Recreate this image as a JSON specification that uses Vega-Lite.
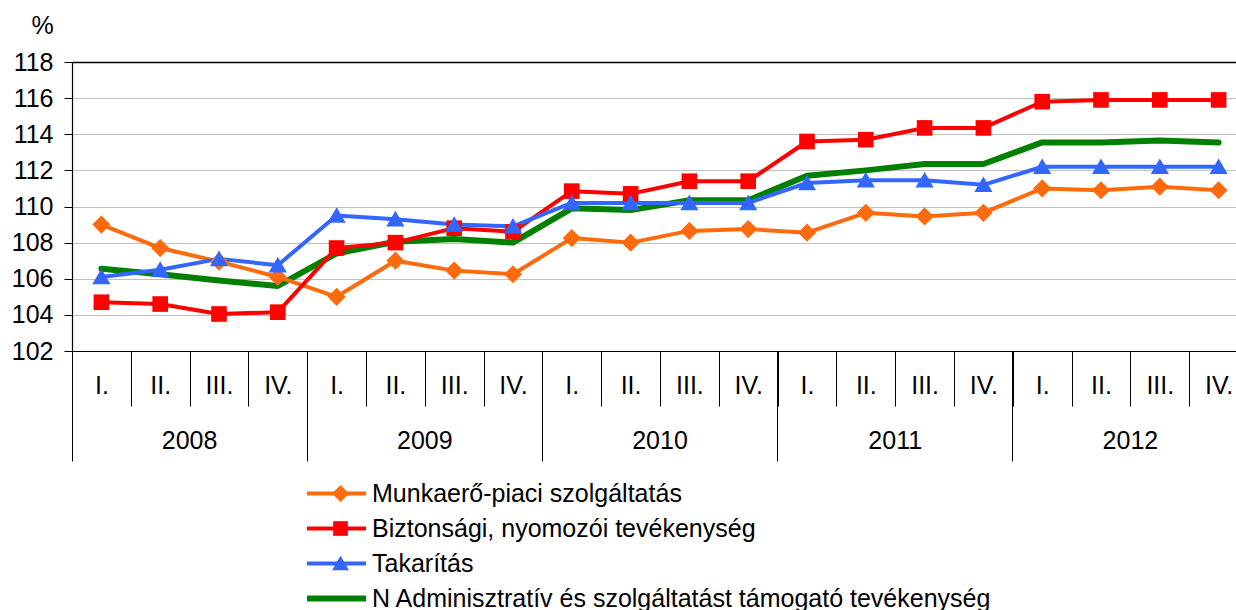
{
  "$schema": "https://vega.github.io/schema/vega-lite/v6.json",
  "autosize": {"type": "none"},
  "padding": {"left": 72, "top": 62, "right": -12, "bottom": 259},
  "width": 1176,
  "height": 289,
  "background": "white",
  "config": {
    "font": "Liberation Sans",
    "view": {"stroke": null},
    "axis": {"labelFont": "Liberation Sans", "titleFont": "Liberation Sans"},
    "legend": {"labelFont": "Liberation Sans"}
  },
  "data": {"values": [
    {"period": "2008|I.", "series": "Munkaerő-piaci szolgáltatás", "value": 109.0},
    {"period": "2008|II.", "series": "Munkaerő-piaci szolgáltatás", "value": 107.7},
    {"period": "2008|III.", "series": "Munkaerő-piaci szolgáltatás", "value": 106.95},
    {"period": "2008|IV.", "series": "Munkaerő-piaci szolgáltatás", "value": 106.1},
    {"period": "2009|I.", "series": "Munkaerő-piaci szolgáltatás", "value": 105.0},
    {"period": "2009|II.", "series": "Munkaerő-piaci szolgáltatás", "value": 107.0},
    {"period": "2009|III.", "series": "Munkaerő-piaci szolgáltatás", "value": 106.45},
    {"period": "2009|IV.", "series": "Munkaerő-piaci szolgáltatás", "value": 106.25},
    {"period": "2010|I.", "series": "Munkaerő-piaci szolgáltatás", "value": 108.25},
    {"period": "2010|II.", "series": "Munkaerő-piaci szolgáltatás", "value": 108.0},
    {"period": "2010|III.", "series": "Munkaerő-piaci szolgáltatás", "value": 108.65},
    {"period": "2010|IV.", "series": "Munkaerő-piaci szolgáltatás", "value": 108.75},
    {"period": "2011|I.", "series": "Munkaerő-piaci szolgáltatás", "value": 108.55},
    {"period": "2011|II.", "series": "Munkaerő-piaci szolgáltatás", "value": 109.65},
    {"period": "2011|III.", "series": "Munkaerő-piaci szolgáltatás", "value": 109.45},
    {"period": "2011|IV.", "series": "Munkaerő-piaci szolgáltatás", "value": 109.65},
    {"period": "2012|I.", "series": "Munkaerő-piaci szolgáltatás", "value": 111.0},
    {"period": "2012|II.", "series": "Munkaerő-piaci szolgáltatás", "value": 110.9},
    {"period": "2012|III.", "series": "Munkaerő-piaci szolgáltatás", "value": 111.1},
    {"period": "2012|IV.", "series": "Munkaerő-piaci szolgáltatás", "value": 110.9},
    {"period": "2008|I.", "series": "Biztonsági, nyomozói tevékenység", "value": 104.7},
    {"period": "2008|II.", "series": "Biztonsági, nyomozói tevékenység", "value": 104.6},
    {"period": "2008|III.", "series": "Biztonsági, nyomozói tevékenység", "value": 104.05},
    {"period": "2008|IV.", "series": "Biztonsági, nyomozói tevékenység", "value": 104.15},
    {"period": "2009|I.", "series": "Biztonsági, nyomozói tevékenység", "value": 107.7},
    {"period": "2009|II.", "series": "Biztonsági, nyomozói tevékenység", "value": 108.0},
    {"period": "2009|III.", "series": "Biztonsági, nyomozói tevékenység", "value": 108.8},
    {"period": "2009|IV.", "series": "Biztonsági, nyomozói tevékenység", "value": 108.6},
    {"period": "2010|I.", "series": "Biztonsági, nyomozói tevékenység", "value": 110.85},
    {"period": "2010|II.", "series": "Biztonsági, nyomozói tevékenység", "value": 110.7},
    {"period": "2010|III.", "series": "Biztonsági, nyomozói tevékenység", "value": 111.4},
    {"period": "2010|IV.", "series": "Biztonsági, nyomozói tevékenység", "value": 111.4},
    {"period": "2011|I.", "series": "Biztonsági, nyomozói tevékenység", "value": 113.6},
    {"period": "2011|II.", "series": "Biztonsági, nyomozói tevékenység", "value": 113.7},
    {"period": "2011|III.", "series": "Biztonsági, nyomozói tevékenység", "value": 114.35},
    {"period": "2011|IV.", "series": "Biztonsági, nyomozói tevékenység", "value": 114.35},
    {"period": "2012|I.", "series": "Biztonsági, nyomozói tevékenység", "value": 115.8},
    {"period": "2012|II.", "series": "Biztonsági, nyomozói tevékenység", "value": 115.9},
    {"period": "2012|III.", "series": "Biztonsági, nyomozói tevékenység", "value": 115.9},
    {"period": "2012|IV.", "series": "Biztonsági, nyomozói tevékenység", "value": 115.9},
    {"period": "2008|I.", "series": "Takarítás", "value": 106.1},
    {"period": "2008|II.", "series": "Takarítás", "value": 106.5},
    {"period": "2008|III.", "series": "Takarítás", "value": 107.1},
    {"period": "2008|IV.", "series": "Takarítás", "value": 106.75},
    {"period": "2009|I.", "series": "Takarítás", "value": 109.5},
    {"period": "2009|II.", "series": "Takarítás", "value": 109.3},
    {"period": "2009|III.", "series": "Takarítás", "value": 109.0},
    {"period": "2009|IV.", "series": "Takarítás", "value": 108.9},
    {"period": "2010|I.", "series": "Takarítás", "value": 110.2},
    {"period": "2010|II.", "series": "Takarítás", "value": 110.2},
    {"period": "2010|III.", "series": "Takarítás", "value": 110.2},
    {"period": "2010|IV.", "series": "Takarítás", "value": 110.2},
    {"period": "2011|I.", "series": "Takarítás", "value": 111.3},
    {"period": "2011|II.", "series": "Takarítás", "value": 111.45},
    {"period": "2011|III.", "series": "Takarítás", "value": 111.45},
    {"period": "2011|IV.", "series": "Takarítás", "value": 111.2},
    {"period": "2012|I.", "series": "Takarítás", "value": 112.2},
    {"period": "2012|II.", "series": "Takarítás", "value": 112.2},
    {"period": "2012|III.", "series": "Takarítás", "value": 112.2},
    {"period": "2012|IV.", "series": "Takarítás", "value": 112.2},
    {"period": "2008|I.", "series": "N Adminisztratív és szolgáltatást támogató tevékenység", "value": 106.55},
    {"period": "2008|II.", "series": "N Adminisztratív és szolgáltatást támogató tevékenység", "value": 106.25},
    {"period": "2008|III.", "series": "N Adminisztratív és szolgáltatást támogató tevékenység", "value": 105.9},
    {"period": "2008|IV.", "series": "N Adminisztratív és szolgáltatást támogató tevékenység", "value": 105.6},
    {"period": "2009|I.", "series": "N Adminisztratív és szolgáltatást támogató tevékenység", "value": 107.4},
    {"period": "2009|II.", "series": "N Adminisztratív és szolgáltatást támogató tevékenység", "value": 108.05},
    {"period": "2009|III.", "series": "N Adminisztratív és szolgáltatást támogató tevékenység", "value": 108.2},
    {"period": "2009|IV.", "series": "N Adminisztratív és szolgáltatást támogató tevékenység", "value": 108.0},
    {"period": "2010|I.", "series": "N Adminisztratív és szolgáltatást támogató tevékenység", "value": 109.9},
    {"period": "2010|II.", "series": "N Adminisztratív és szolgáltatást támogató tevékenység", "value": 109.8},
    {"period": "2010|III.", "series": "N Adminisztratív és szolgáltatást támogató tevékenység", "value": 110.35},
    {"period": "2010|IV.", "series": "N Adminisztratív és szolgáltatást támogató tevékenység", "value": 110.35},
    {"period": "2011|I.", "series": "N Adminisztratív és szolgáltatást támogató tevékenység", "value": 111.7},
    {"period": "2011|II.", "series": "N Adminisztratív és szolgáltatást támogató tevékenység", "value": 112.0},
    {"period": "2011|III.", "series": "N Adminisztratív és szolgáltatást támogató tevékenység", "value": 112.35},
    {"period": "2011|IV.", "series": "N Adminisztratív és szolgáltatást támogató tevékenység", "value": 112.35},
    {"period": "2012|I.", "series": "N Adminisztratív és szolgáltatást támogató tevékenység", "value": 113.55},
    {"period": "2012|II.", "series": "N Adminisztratív és szolgáltatást támogató tevékenység", "value": 113.55},
    {"period": "2012|III.", "series": "N Adminisztratív és szolgáltatást támogató tevékenység", "value": 113.65},
    {"period": "2012|IV.", "series": "N Adminisztratív és szolgáltatást támogató tevékenység", "value": 113.55}
  ]},
  "resolve": {"axis": {"x": "independent"}},
  "encoding": {
    "y": {"field": "value", "type": "quantitative",
      "scale": {"domain": [102, 118], "nice": false, "zero": false},
      "axis": {"values": [102,104,106,108,110,112,114,116,118], "tickCount": 20, "title": "%", "titleAngle": 0, "titleAlign": "center", "titleBaseline": "middle",
        "titleX": -30, "titleY": -37, "titleFontSize": 25, "titleFontWeight": "normal", "titleColor": "black", "labelOverlap": false,
        "labelFontSize": 25, "labelColor": "black", "labelPadding": 11, "tickSize": 8, "tickColor": "black", "domainColor": "black", "domainWidth": 1.2,
        "gridColor": {"condition": {"test": "datum.value === 118", "value": "black"}, "value": "#C0C0C0"},
        "gridWidth": {"condition": {"test": "datum.value === 118", "value": 1.5}, "value": 1}}}
  },
  "layer": [
    {
      "transform": [{"filter": "datum.series === 'N Adminisztratív és szolgáltatást támogató tevékenység'"}],
      "mark": {"type": "line", "strokeWidth": 6, "strokeJoin": "round", "strokeCap": "round"},
      "encoding": {
        "x": {"field": "period", "type": "ordinal",
          "scale": {"type": "band", "paddingInner": 0, "paddingOuter": 0,
            "domain": ["2008|I.","2008|II.","2008|III.","2008|IV.","2009|I.","2009|II.","2009|III.","2009|IV.","2010|I.","2010|II.","2010|III.","2010|IV.","2011|I.","2011|II.","2011|III.","2011|IV.","2012|I.","2012|II.","2012|III.","2012|IV."]},
          "axis": {"orient": "bottom", "title": null, "grid": false, "labelAngle": 0, "tickBand": "extent", "tickSize": 55, "tickColor": "black", "tickWidth": 1,
            "domainColor": "black", "domainWidth": 1.2, "labelExpr": "split(datum.value, '|')[1]", "labelFontSize": 25, "labelColor": "black",
            "labelBaseline": "middle", "labelPadding": -21, "labelAlign": "center", "labelOverlap": false}},
        "stroke": {"field": "series", "type": "nominal",
          "scale": {"domain": ["Munkaerő-piaci szolgáltatás", "Biztonsági, nyomozói tevékenység", "Takarítás", "N Adminisztratív és szolgáltatást támogató tevékenység"],
            "range": ["#FF6A0D", "#FF0000", "#3366FF", "#008000"]},
          "legend": {"orient": "none", "legendX": 252, "legendY": 419, "title": null, "direction": "vertical", "symbolType": "stroke", "symbolSize": 3481,
            "symbolStrokeWidth": 4, "labelFontSize": 25, "labelColor": "black", "labelLimit": 1200, "rowPadding": 9, "labelOffset": 23, "padding": 0,
            "encode": {"symbols": {"update": {"strokeWidth": {"signal": "datum.value === 'N Adminisztratív és szolgáltatást támogató tevékenység' ? 6 : 4"}}}}}}
      }
    },
    {
      "transform": [{"filter": "datum.series !== 'N Adminisztratív és szolgáltatást támogató tevékenység'"}],
      "mark": {"type": "line", "strokeWidth": 4, "strokeJoin": "round"},
      "encoding": {
        "x": {"field": "period", "type": "ordinal",
          "axis": {"orient": "bottom", "title": null, "grid": false, "domain": false, "labelAngle": 0,
            "values": ["2008|I.","2009|I.","2010|I.","2011|I.","2012|I."], "bandPosition": 0,
            "tickSize": 110, "tickColor": "black", "tickWidth": 1, "labelOverlap": false,
            "labelExpr": "split(datum.value, '|')[0]", "labelFontSize": 25, "labelColor": "black",
            "labelBaseline": "middle", "labelPadding": -21, "labelAlign": "center", "labelOffset": 88.2}},
        "stroke": {"field": "series", "type": "nominal",
          "legend": {"orient": "none", "legendX": 252, "legendY": 419, "title": null, "direction": "vertical", "symbolType": "stroke", "symbolSize": 3481,
            "symbolStrokeWidth": 4, "labelFontSize": 25, "labelColor": "black", "labelLimit": 1200, "rowPadding": 9, "labelOffset": 23, "padding": 0}}
      }
    },
    {
      "transform": [{"filter": "datum.series !== 'N Adminisztratív és szolgáltatást támogató tevékenység'"}],
      "mark": {"type": "point", "filled": true, "opacity": 1, "strokeWidth": 0, "size": 330},
      "encoding": {
        "x": {"field": "period", "type": "ordinal", "axis": null},
        "shape": {"field": "series", "type": "nominal",
          "scale": {"domain": ["Munkaerő-piaci szolgáltatás", "Biztonsági, nyomozói tevékenység", "Takarítás"],
            "range": ["M0,-1L1,0L0,1L-1,0Z", "M-0.86,-0.86H0.86V0.86H-0.86Z", "M0,-0.92L1,0.8H-1Z"]},
          "legend": {"orient": "none", "legendX": 256, "legendY": 419, "title": null, "direction": "vertical", "symbolSize": 290,
            "labelFontSize": 25, "labelColor": "transparent", "labelExpr": "''", "labelLimit": 1200, "rowPadding": 9, "labelOffset": 6, "padding": 0, "symbolStrokeWidth": 0, "symbolOpacity": 1,
            "encode": {"symbols": {"update": {"fill": {"signal": "datum.value === 'Munkaerő-piaci szolgáltatás' ? '#FF6A0D' : datum.value === 'Takarítás' ? '#3366FF' : '#FF0000'"}, "opacity": {"value": 1}, "fillOpacity": {"value": 1}}}}}},
        "fill": {"field": "series", "type": "nominal",
          "scale": {"domain": ["Munkaerő-piaci szolgáltatás", "Biztonsági, nyomozói tevékenység", "Takarítás"], "range": ["#FF6A0D", "#FF0000", "#3366FF"]},
          "legend": {"orient": "none", "legendX": 256, "legendY": 419, "title": null, "direction": "vertical", "symbolSize": 290,
            "labelFontSize": 25, "labelColor": "transparent", "labelExpr": "''", "labelLimit": 1200, "rowPadding": 9, "labelOffset": 6, "padding": 0, "symbolStrokeWidth": 0, "symbolOpacity": 1}}
      }
    }
  ]
}
